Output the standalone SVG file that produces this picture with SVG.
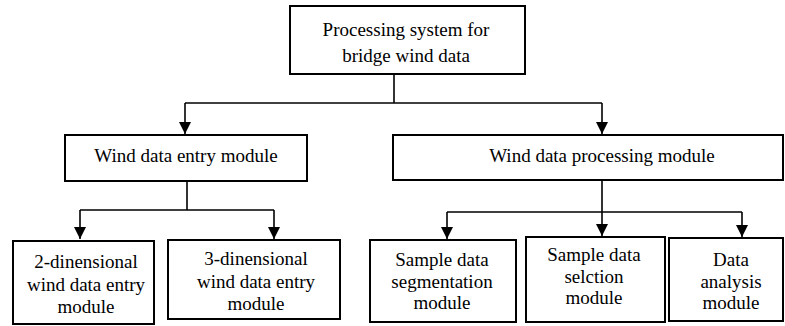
<svg xmlns="http://www.w3.org/2000/svg" width="785" height="326" viewBox="0 0 785 326">
<style>
  .box { fill: #fff; stroke: #000; stroke-width: 2; }
  .lbl { font-family: "Times New Roman", Times, Tinos, "Liberation Serif", "Noto Serif", "DejaVu Serif", FreeSerif, serif; font-size: 19px; fill: #000; text-anchor: middle; }
  .ln { fill: none; stroke: #000; stroke-width: 1.6; }
</style>
<defs>
  <marker id="ah" markerWidth="12" markerHeight="12" refX="12" refY="6" orient="auto" markerUnits="userSpaceOnUse">
    <path d="M0,0 L12,6 L0,12 Z" fill="#000"/>
  </marker>
</defs>
<rect width="785" height="326" fill="#fff"/>
<g id="connectors">
  <path class="ln" d="M394,74 V103"/>
  <path class="ln" d="M185,103 H602"/>
  <path class="ln" d="M185,103 V134" marker-end="url(#ah)"/>
  <path class="ln" d="M602,103 V134" marker-end="url(#ah)"/>
  <path class="ln" d="M187,181 V210 M80,210 H274"/>
  <path class="ln" d="M80,210 V239" marker-end="url(#ah)"/>
  <path class="ln" d="M274,210 V239" marker-end="url(#ah)"/>
  <path class="ln" d="M602,180 V212 M447,212 H742"/>
  <path class="ln" d="M447,212 V239" marker-end="url(#ah)"/>
  <path class="ln" d="M602,212 V236" marker-end="url(#ah)"/>
  <path class="ln" d="M742,212 V237" marker-end="url(#ah)"/>
</g>
<g id="root">
  <rect class="box" x="290" y="6" width="235" height="68"/>
  <text class="lbl" x="406" y="36">Processing system for</text>
  <text class="lbl" x="406" y="62">bridge wind data</text>
</g>
<g id="entry">
  <rect class="box" x="65" y="135" width="242" height="46"/>
  <text class="lbl" x="186" y="162">Wind data entry module</text>
</g>
<g id="processing">
  <rect class="box" x="393" y="135" width="390" height="45"/>
  <text class="lbl" x="602" y="162">Wind data processing module</text>
</g>
<g id="entry2d">
  <rect class="box" x="13" y="241" width="141" height="83"/>
  <text class="lbl" x="86" y="268">2-dinensional</text>
  <text class="lbl" x="86" y="291">wind data entry</text>
  <text class="lbl" x="86" y="313">module</text>
</g>
<g id="entry3d">
  <rect class="box" x="168" y="240" width="172" height="79"/>
  <text class="lbl" x="256" y="265">3-dinensional</text>
  <text class="lbl" x="256" y="288">wind data entry</text>
  <text class="lbl" x="256" y="310">module</text>
</g>
<g id="segmentation">
  <rect class="box" x="370" y="240" width="146" height="82"/>
  <text class="lbl" x="442" y="266">Sample data</text>
  <text class="lbl" x="442" y="288">segmentation</text>
  <text class="lbl" x="442" y="309">module</text>
</g>
<g id="selection">
  <rect class="box" x="526" y="237" width="139" height="85"/>
  <text class="lbl" x="594" y="261">Sample data</text>
  <text class="lbl" x="594" y="283">selction</text>
  <text class="lbl" x="594" y="304">module</text>
</g>
<g id="analysis">
  <rect class="box" x="669" y="238" width="114" height="83"/>
  <text class="lbl" x="731" y="266">Data</text>
  <text class="lbl" x="731" y="288">analysis</text>
  <text class="lbl" x="731" y="309">module</text>
</g>
</svg>
